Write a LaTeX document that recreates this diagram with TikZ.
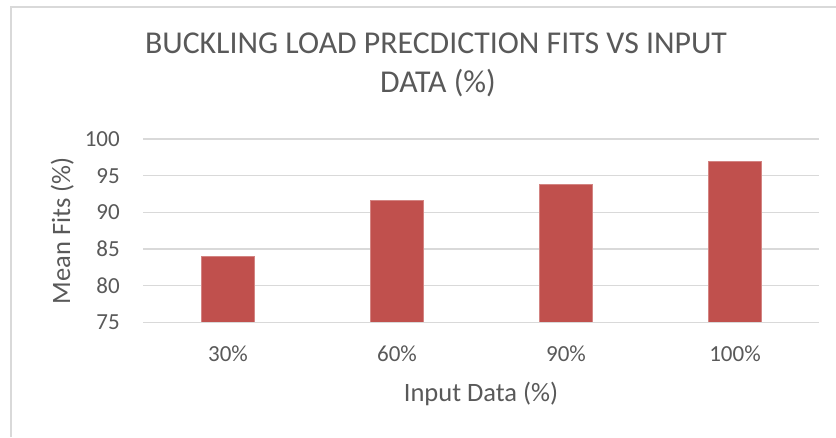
\documentclass[tikz,border=0pt]{standalone}
\usepackage{fontspec}
\setmainfont{Carlito}
\definecolor{txt}{HTML}{595959}
\definecolor{grid}{HTML}{D9D9D9}
\definecolor{barred}{HTML}{C0504D}
\begin{document}
\begin{tikzpicture}[x=1pt,y=-1pt,
  gridline/.style={draw=grid,line width=1.5pt},
  barfill/.style={fill=barred,draw=barred!70!white,line width=0.8pt},
  ticklab/.style={text=txt,font=\fontsize{23}{27}\selectfont,inner sep=0pt},
  axtitle/.style={text=txt,font=\fontsize{26.5}{30}\selectfont,inner sep=0pt},
  charttitle/.style={text=txt,font=\fontsize{31.8}{39}\selectfont,inner sep=0pt,align=center}]
\useasboundingbox (0,0) rectangle (836,437);
% chart border
\draw[grid,line width=1.5pt] (11,437) -- (11,7) -- (836,7);
% gridlines and y tick labels
\foreach \v/\y in {75/322.3,80/285.7,85/249,90/212.3,95/175.7,100/139}{
  \draw[gridline] (143,\y) -- (819,\y);
  \node[ticklab,anchor=east] (y\v) at (120,\y) {\v};
}
% bars
\foreach \c/\v/\n in {228/84.0/a,397/91.64/b,566/93.77/c,735/96.96/d}{
  \pgfmathsetmacro{\top}{322.3-(\v-75)*7.332}
  \path[barfill] (\c-26.5,322.3) rectangle (\c+26.5,\top);
}
\draw[gridline] (143,322.3) -- (819,322.3);
% x tick labels
\foreach \c/\l/\n in {228/30/a,397/60/b,566/90/c,735/100/d}{
  \node[ticklab,anchor=base] (x\n) at (\c,361.7) {\l\%};
}
% axis titles
\node[axtitle,anchor=base] (xt) at (481,401.7) {Input Data (\%)};
\node[axtitle,anchor=base,rotate=90] (yt) at (70,230.7) {Mean Fits (\%)};
% chart title
\node[charttitle,anchor=base] (t1) at (436,53.3) {BUCKLING LOAD PRECDICTION FITS VS INPUT};
\node[charttitle,anchor=base] (t2) at (438,92) {DATA (\%)};
\end{tikzpicture}
\end{document}
